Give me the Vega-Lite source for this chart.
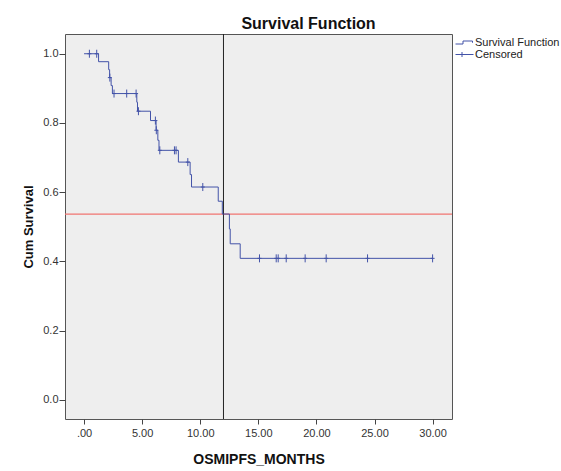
{
  "$schema": "https://vega.github.io/schema/vega-lite/v6.json",
  "autosize": "none",
  "width": 387,
  "height": 385,
  "padding": {"left": 65, "top": 34, "right": 109, "bottom": 52},
  "background": "white",
  "view": {"fill": "#eeeeee", "stroke": "#555", "strokeWidth": 1},
  "title": {
    "text": "Survival Function",
    "fontSize": 16,
    "fontWeight": "bold",
    "color": "#111",
    "anchor": "middle",
    "frame": "group",
    "dx": 50,
    "offset": 2
  },
  "config": {
    "font": "Liberation Sans",
    "axis": {
      "grid": false,
      "domain": false,
      "tickColor": "#444",
      "labelColor": "#333",
      "labelFontSize": 11,
      "titleFontSize": 14,
      "titleFontWeight": "bold",
      "titleColor": "#111"
    }
  },
  "datasets": {
    "steps": [
      {"time": 0, "surv": 1.0},
      {"time": 1.25, "surv": 0.977},
      {"time": 2.12, "surv": 0.954},
      {"time": 2.2, "surv": 0.931},
      {"time": 2.33, "surv": 0.908},
      {"time": 2.44, "surv": 0.885},
      {"time": 4.54, "surv": 0.86},
      {"time": 4.6, "surv": 0.834},
      {"time": 5.72, "surv": 0.807},
      {"time": 6.2, "surv": 0.779},
      {"time": 6.35, "surv": 0.75},
      {"time": 6.45, "surv": 0.721},
      {"time": 8.12, "surv": 0.687},
      {"time": 9.13, "surv": 0.651},
      {"time": 9.25, "surv": 0.615},
      {"time": 11.55, "surv": 0.574},
      {"time": 11.9, "surv": 0.537},
      {"time": 12.51, "surv": 0.494},
      {"time": 12.58, "surv": 0.451},
      {"time": 13.44, "surv": 0.409},
      {"time": 30.0, "surv": 0.409}
    ],
    "censored": [
      {"time": 0.46, "surv": 1.0},
      {"time": 1.09, "surv": 1.0},
      {"time": 2.22, "surv": 0.931},
      {"time": 2.58, "surv": 0.885},
      {"time": 3.67, "surv": 0.885},
      {"time": 4.48, "surv": 0.885},
      {"time": 4.68, "surv": 0.834},
      {"time": 6.14, "surv": 0.807},
      {"time": 6.22, "surv": 0.779},
      {"time": 6.52, "surv": 0.721},
      {"time": 7.78, "surv": 0.721},
      {"time": 7.92, "surv": 0.721},
      {"time": 8.93, "surv": 0.687},
      {"time": 10.22, "surv": 0.615},
      {"time": 15.1, "surv": 0.409},
      {"time": 16.54, "surv": 0.409},
      {"time": 16.71, "surv": 0.409},
      {"time": 17.4, "surv": 0.409},
      {"time": 19.03, "surv": 0.409},
      {"time": 20.84, "surv": 0.409},
      {"time": 24.4, "surv": 0.409},
      {"time": 30.0, "surv": 0.409}
    ],
    "refs": [
      {"median_time": 12, "ref_surv": 0.537}
    ],
    "legendItems": [
      {"series": "Survival Function"},
      {"series": "Censored"}
    ]
  },
  "encoding": {
    "x": {
      "field": "time",
      "type": "quantitative",
      "title": "OSMIPFS_MONTHS",
      "scale": {"domain": [-1.64, 31.67], "nice": false, "zero": false},
      "axis": {
        "values": [0, 5, 10, 15, 20, 25, 30],
        "labelExpr": "datum.value == 0 ? '.00' : format(datum.value, '.2f')",
        "tickSize": 5,
        "labelPadding": 3,
        "titlePadding": 14
      }
    },
    "y": {
      "field": "surv",
      "type": "quantitative",
      "title": "Cum Survival",
      "scale": {"domain": [-0.055, 1.057], "nice": false, "zero": false},
      "axis": {
        "values": [0, 0.2, 0.4, 0.6, 0.8, 1.0],
        "format": ".1f",
        "tickSize": 6,
        "labelPadding": 1,
        "titleFontSize": 13,
        "titlePadding": 7
      }
    }
  },
  "layer": [
    {
      "data": {"name": "refs"},
      "mark": {"type": "rule", "color": "#f07470", "strokeWidth": 1.2},
      "encoding": {"x": null, "y": {"field": "ref_surv", "type": "quantitative"}}
    },
    {
      "data": {"name": "refs"},
      "mark": {"type": "rule", "color": "#222", "strokeWidth": 1},
      "encoding": {"y": null, "x": {"field": "median_time", "type": "quantitative"}}
    },
    {
      "data": {"name": "steps"},
      "mark": {"type": "line", "interpolate": "step-after", "color": "#4353a8", "strokeWidth": 1}
    },
    {
      "data": {"name": "censored"},
      "mark": {
        "type": "point",
        "shape": "M-0.5,0L0.5,0M0,-1L0,1",
        "size": 64,
        "filled": false,
        "color": "#4353a8",
        "strokeWidth": 1,
        "opacity": 1
      }
    },
    {
      "data": {"name": "legendItems"},
      "transform": [{"filter": "false"}],
      "mark": {"type": "point", "filled": false, "color": "#4353a8", "strokeWidth": 1},
      "encoding": {
        "x": null,
        "y": null,
        "shape": {
          "field": "series",
          "type": "nominal",
          "scale": {
            "domain": ["Survival Function", "Censored"],
            "range": [
              "M-1.8,0.3L-0.3,0.3L-0.3,-0.3L1.6,-0.3L1.6,0.05",
              "M-1.8,0L1.8,0M-0.5,-0.5L-0.5,0.5"
            ]
          },
          "legend": {
            "title": null,
            "orient": "none",
            "legendX": 394,
            "legendY": 3,
            "padding": 0,
            "rowPadding": 0,
            "symbolSize": 100,
            "symbolStrokeColor": "#4353a8",
            "symbolFillColor": "transparent",
            "symbolStrokeWidth": 1,
            "symbolOpacity": 1,
            "labelOffset": 5,
            "labelFontSize": 11,
            "labelColor": "#222"
          }
        }
      }
    }
  ]
}
